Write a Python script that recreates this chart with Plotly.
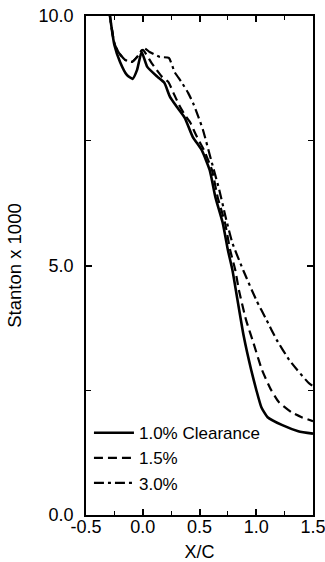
import plotly.graph_objects as go

# 1.0% clearance (solid)
x_10 = [-0.32, -0.29, -0.25, -0.20, -0.14, -0.09, -0.05, -0.01, 0.04, 0.13, 0.19, 0.24, 0.30, 0.37,
        0.44, 0.52, 0.59, 0.64, 0.705, 0.75, 0.79, 0.82, 0.89, 0.955, 1.00, 1.045, 1.10, 1.23, 1.37, 1.50]
y_10 = [10.6, 10.02, 9.42, 9.08, 8.82, 8.74, 8.92, 9.28, 8.98, 8.78, 8.66, 8.38, 8.18, 7.96,
        7.58, 7.31, 6.91, 6.37, 5.85, 5.31, 4.91, 4.51, 3.58, 2.91, 2.51, 2.16, 1.96, 1.80, 1.68, 1.63]

# 1.5% clearance (dashed)
x_15 = [-0.32, -0.29, -0.25, -0.21, -0.155, -0.095, -0.05, 0.0, 0.08, 0.17, 0.225, 0.27, 0.32, 0.37,
        0.42, 0.46, 0.50, 0.54, 0.61, 0.66, 0.725, 0.77, 0.815, 0.847, 0.91, 0.975, 1.05, 1.13, 1.20, 1.31, 1.40, 1.50]
y_15 = [10.6, 10.02, 9.45, 9.26, 9.12, 9.08, 9.18, 9.32, 9.05, 8.78, 8.68, 8.46, 8.22, 8.02,
        7.86, 7.66, 7.48, 7.31, 6.91, 6.37, 5.85, 5.31, 4.91, 4.51, 3.91, 3.45, 2.91, 2.51, 2.26, 2.06, 1.96, 1.88]

# 3.0% clearance (dash-dot)
x_30 = [-0.32, -0.29, -0.25, -0.21, -0.155, -0.095, -0.05, 0.01, 0.06, 0.15, 0.23, 0.28, 0.34, 0.40,
        0.45, 0.49, 0.53, 0.61, 0.675, 0.73, 0.79, 0.89, 1.00, 1.09, 1.18, 1.29, 1.36, 1.46, 1.50]
y_30 = [10.6, 10.02, 9.45, 9.26, 9.12, 9.08, 9.18, 9.36, 9.28, 9.18, 9.16, 8.88, 8.68, 8.46,
        8.22, 7.98, 7.72, 7.05, 6.51, 5.97, 5.45, 4.88, 4.31, 3.91, 3.51, 3.11, 2.91, 2.65, 2.58]

names = ["1.0% Clearance", "1.5%", "3.0%"]

x_tickvals = [-0.5, 0.0, 0.5, 1.0, 1.5]
x_ticktext = ["-0.5", "0.0", "0.5", "1.0", "1.5"]
y_tickvals = [0, 5, 10]
y_ticktext = ["0.0", "5.0", "10.0"]

FONT = "Liberation Sans, Arial, Helvetica, sans-serif"

fig = go.Figure()
fig.add_trace(go.Scatter(x=x_10, y=y_10, mode="lines", name=names[0],
                         line=dict(color="black", width=2.6, dash="solid", shape="spline", smoothing=0.5)))
fig.add_trace(go.Scatter(x=x_15, y=y_15, mode="lines", name=names[1],
                         line=dict(color="black", width=2.2, dash="9px,5px", shape="spline", smoothing=0.5)))
fig.add_trace(go.Scatter(x=x_30, y=y_30, mode="lines", name=names[2],
                         line=dict(color="black", width=2.2, dash="10px,4px,3px,4px", shape="spline", smoothing=0.5)))

fig.update_layout(
    width=325, height=562,
    margin=dict(l=86, r=12, t=16, b=47, autoexpand=False),
    paper_bgcolor="white", plot_bgcolor="white",
    font=dict(family=FONT, size=18, color="black"),
    showlegend=True,
    legend=dict(x=0.013, y=0.2, xanchor="left", yanchor="top",
                bgcolor="rgba(0,0,0,0)", font=dict(size=17), tracegroupgap=0,
                itemwidth=40),
)
fig.update_xaxes(
    range=[-0.5, 1.5], tickvals=x_tickvals, ticktext=x_ticktext,
    ticks="inside", ticklen=6, tickwidth=1.5, tickcolor="black",
    ticklabelstandoff=-5, ticklabeloverflow="allow",
    minor=dict(dtick=0.25, tick0=0, ticks="inside", ticklen=4, tickwidth=1.2, tickcolor="black"),
    showline=True, linecolor="black", linewidth=1.5, mirror="ticks",
    showgrid=False, zeroline=False, automargin=False,
    title=dict(text="X/C", standoff=24, font=dict(size=18)),
)
fig.update_yaxes(
    range=[0, 10], tickvals=y_tickvals, ticktext=y_ticktext,
    ticks="inside", ticklen=6, tickwidth=1.5, tickcolor="black",
    ticklabelstandoff=7, ticklabeloverflow="allow",
    minor=dict(dtick=2.5, tick0=0, ticks="inside", ticklen=5, tickwidth=1.2, tickcolor="black"),
    showline=True, linecolor="black", linewidth=1.5, mirror="ticks",
    showgrid=False, zeroline=False, automargin=False,
    title=dict(text="Stanton x 1000", standoff=12, font=dict(size=18.5)),
)

fig.write_html("out.html")
